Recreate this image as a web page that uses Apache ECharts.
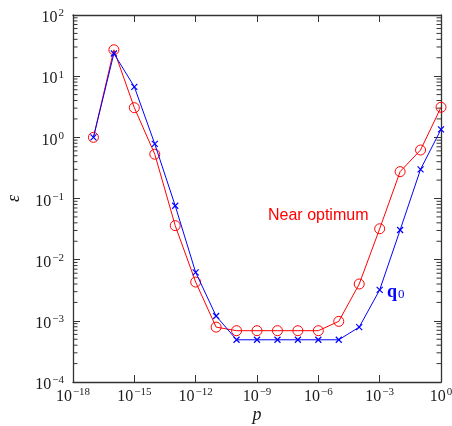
<!DOCTYPE html>
<html>
<head>
<meta charset="utf-8">
<script src="https://cdn.jsdelivr.net/npm/echarts@6/dist/echarts.min.js"></script>
<style>
  html, body { margin: 0; padding: 0; background: #fff; }
  #chart { width: 452px; height: 426px; }
</style>
</head>
<body>
<div id="chart"></div>
<script>
// Perturbation size p (log scale)
const pValues = [1e-17, 1e-16, 1e-15, 1e-14, 1e-13, 1e-12, 1e-11, 1e-10, 1e-9,
                 1e-8, 1e-7, 1e-6, 1e-5, 1e-4, 1e-3, 1e-2, 1e-1, 1e0];
// Error for the near-optimum start
const nearOptimum = [1.0, 27, 3.05, 0.53, 0.036, 0.0043, 7.9e-4, 6.9e-4, 6.9e-4,
                     6.9e-4, 6.9e-4, 6.9e-4, 9.8e-4, 4.0e-3, 0.032, 0.275, 0.62, 3.1];
// Error for the q0 start
const q0Values = [1.0, 23.5, 6.7, 0.78, 0.076, 0.0062, 1.2e-3, 4.9e-4, 4.9e-4,
                  4.9e-4, 4.9e-4, 4.9e-4, 4.9e-4, 7.9e-4, 3.2e-3, 0.0305, 0.30, 1.35];
// Axis ranges (decade exponents)
const xExpRange = [-18, 0];
const yExpRange = [-4, 2];

const serif = '"Liberation Serif", "DejaVu Serif", serif';
const RED = '#ff0000';
const BLUE = '#0000ff';
const INK = '#1a1a1a';

// "10" with the exponent raised as a superscript
function powLabel(value) {
  const e = Math.round(Math.log10(value));
  const s = e < 0 ? '\u2212' + (-e) : String(e);
  return '{b|10}{s|' + s + '}';
}
const powRich = {
  b: { fontFamily: serif, fontSize: 16, color: INK, lineHeight: 16, verticalAlign: 'bottom' },
  s: { fontFamily: serif, fontSize: 11, color: INK, lineHeight: 11, verticalAlign: 'bottom', padding: [0, 0, 7, 1] }
};

// log-decade minor tick positions (2..9 within each decade)
const minorTicks = [];
for (let e = yExpRange[0]; e < yExpRange[1]; e++) {
  for (let m = 2; m <= 9; m++) minorTicks.push([Math.pow(10, xExpRange[0]), m * Math.pow(10, e)]);
}

const axisLine = { lineStyle: { color: '#333', width: 1.3 } };
const tickStyle = { inside: true, length: 7, lineStyle: { color: '#333', width: 1 } };

const chart = echarts.init(document.getElementById('chart'), null, { renderer: 'canvas' });
chart.setOption({
  animation: false,
  grid: { left: 73, right: 11, top: 15, bottom: 44, containLabel: false, outerBoundsMode: 'none' },
  xAxis: [{
    type: 'log', logBase: 10,
    min: Math.pow(10, xExpRange[0]), max: Math.pow(10, xExpRange[1]), interval: 3,
    position: 'bottom',
    axisLine: axisLine, axisTick: tickStyle, splitLine: { show: false },
    axisLabel: { formatter: powLabel, rich: powRich, margin: 7, showMinLabel: true, showMaxLabel: true, hideOverlap: false },
    name: 'p', nameLocation: 'middle', nameGap: 24, nameMoveOverlap: false,
    nameTextStyle: { fontFamily: serif, fontStyle: 'italic', fontSize: 18, color: INK }
  }, {
    type: 'log', logBase: 10,
    min: Math.pow(10, xExpRange[0]), max: Math.pow(10, xExpRange[1]), interval: 3,
    position: 'top',
    axisLine: axisLine, axisTick: tickStyle, splitLine: { show: false },
    axisLabel: { show: false }
  }],
  yAxis: [{
    type: 'log', logBase: 10,
    min: Math.pow(10, yExpRange[0]), max: Math.pow(10, yExpRange[1]), interval: 1,
    position: 'left',
    axisLine: axisLine, axisTick: tickStyle, splitLine: { show: false },
    axisLabel: { formatter: powLabel, rich: powRich, margin: 9, padding: [6, 0, 0, 0], showMinLabel: true, showMaxLabel: true, hideOverlap: false },
    name: '\u03b5', nameLocation: 'middle', nameGap: 50, nameRotate: 90, nameMoveOverlap: false,
    nameTextStyle: { fontFamily: serif, fontStyle: 'italic', fontSize: 18, color: INK }
  }, {
    type: 'log', logBase: 10,
    min: Math.pow(10, yExpRange[0]), max: Math.pow(10, yExpRange[1]), interval: 1,
    position: 'right',
    axisLine: axisLine, axisTick: tickStyle, splitLine: { show: false },
    axisLabel: { show: false }
  }],
  series: [{
    // minor ticks on the left and right frame edges
    type: 'custom',
    silent: true,
    xAxisIndex: 0, yAxisIndex: 0,
    data: minorTicks,
    clip: false,
    renderItem: function (params, api) {
      const y = api.coord([api.value(0), api.value(1)])[1];
      const cs = params.coordSys;
      const st = { stroke: '#333', lineWidth: 1 };
      return {
        type: 'group',
        children: [
          { type: 'line', shape: { x1: cs.x, y1: y, x2: cs.x + 4.5, y2: y }, style: st },
          { type: 'line', shape: { x1: cs.x + cs.width - 4.5, y1: y, x2: cs.x + cs.width, y2: y }, style: st }
        ]
      };
    }
  }, {
    name: 'Near optimum',
    type: 'line',
    data: pValues.map((p, i) => [p, nearOptimum[i]]),
    symbol: 'circle', symbolSize: 10,
    lineStyle: { color: RED, width: 1 },
    itemStyle: { color: 'transparent', borderColor: RED, borderWidth: 1 },
    z: 3
  }, {
    name: 'q0',
    type: 'line',
    data: pValues.map((p, i) => [p, q0Values[i]]),
    symbol: 'path://M0,0L10,10M10,0L0,10', symbolSize: 6,
    lineStyle: { color: BLUE, width: 1 },
    itemStyle: { color: 'transparent', borderColor: BLUE, borderWidth: 1.2 },
    z: 4
  }],
  graphic: [{
    type: 'text', left: 268, top: 208,
    style: { text: 'Near optimum', fill: RED, font: '16px "Liberation Sans", Arial, sans-serif' }
  }, {
    type: 'text', left: 387, top: 283,
    style: {
      text: '{q|q}{z|0}',
      fill: BLUE,
      rich: {
        q: { fontFamily: serif, fontWeight: 'bold', fontSize: 18, fill: BLUE, lineHeight: 20, verticalAlign: 'bottom' },
        z: { fontFamily: serif, fontSize: 13, fill: BLUE, lineHeight: 16, verticalAlign: 'bottom', padding: [0, 0, 0, 1] }
      }
    }
  }]
});
</script>
</body>
</html>
